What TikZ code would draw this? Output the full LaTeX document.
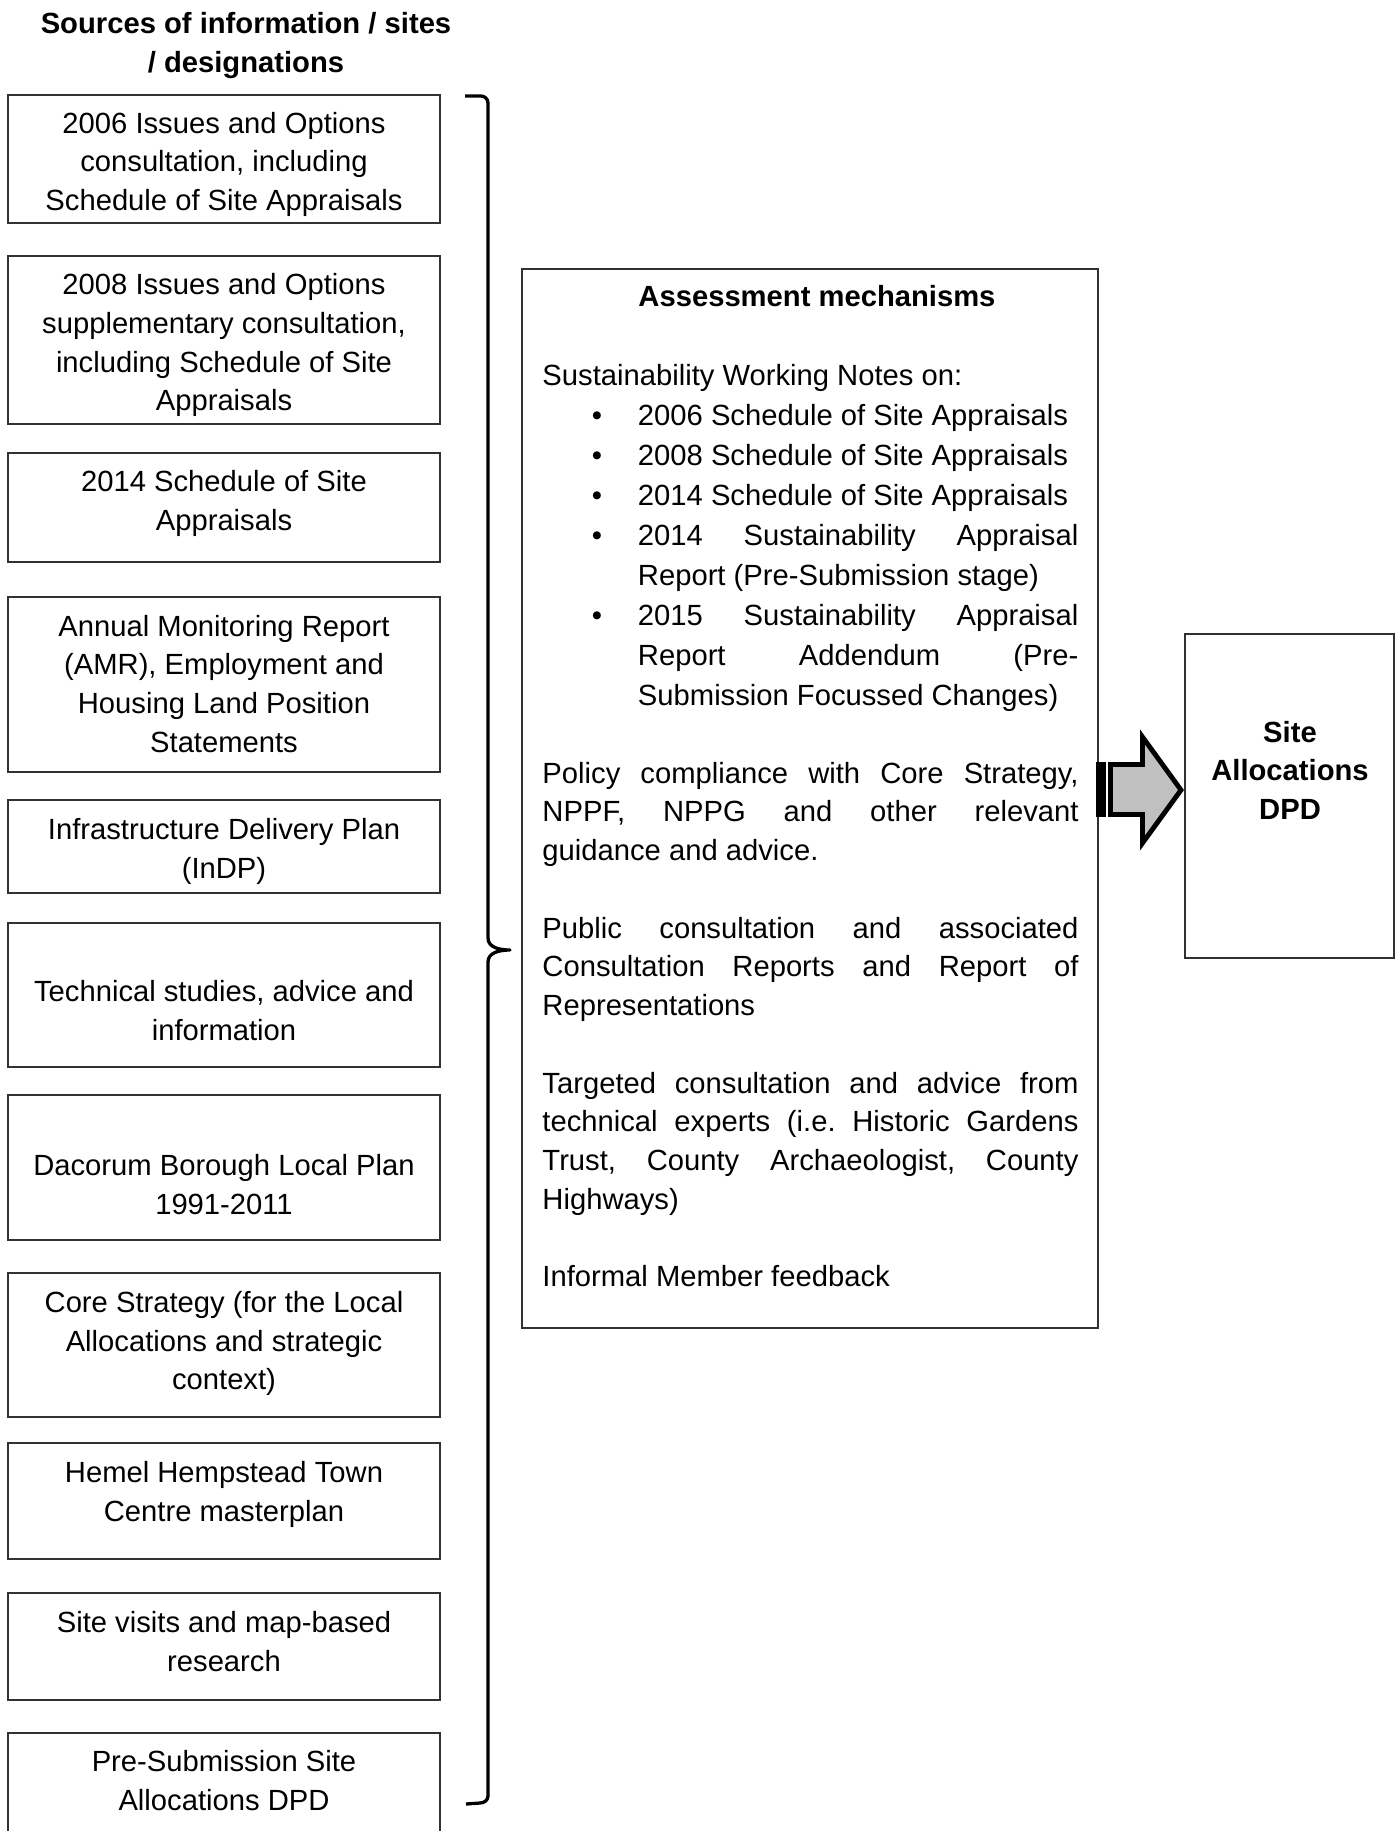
\documentclass[tikz,border=0pt]{standalone}
\usepackage{fontspec}
\setmainfont{Liberation Sans}
\usetikzlibrary{fit}
\definecolor{arrowgray}{RGB}{192,192,192}
\definecolor{boxline}{RGB}{50,50,50}
\newcommand\fixsp{\spaceskip=0pt\xspaceskip=0pt\frenchspacing}
\newcommand\lst{\rule[-3pt]{0pt}{12pt}}
\newcommand\itemline[1]{\hspace*{20.3pt}\makebox[18.95pt][l]{\textbullet}#1}
\newcommand\itemjust[1]{\hspace*{20.3pt}\makebox[18.95pt][l]{\textbullet}\makebox[181pt][s]{\fixsp #1}}
\newcommand\contline[1]{\hspace*{39.25pt}#1}
\newcommand\contjust[1]{\hspace*{39.25pt}\makebox[181pt][s]{\fixsp #1}}
\newcommand\fulljust[1]{\makebox[220.3pt][s]{\fixsp #1}}
\begin{document}
\begin{tikzpicture}[x=0.411pt,y=-0.411pt,
  srcbox/.style={draw=boxline,line width=0.5pt,inner sep=0pt},
  srctext/.style={align=center,inner sep=0pt,font=\fontsize{12pt}{15.9pt}\selectfont},
  headtext/.style={align=center,inner sep=0pt,font=\fontsize{12pt}{15.9pt}\selectfont\bfseries},
  bracestyle/.style={line width=1.35pt,line cap=butt,line join=round},
  arrowbody/.style={draw=black,line width=2pt,fill=arrowgray,line join=miter}]
\useasboundingbox (0,0) rectangle (1400,1831);
\clip (0,0) rectangle (1400,1831);
\fill[white] (0,0) rectangle (1400,1831);

% heading
\node[headtext] (head) at (246,45.9) {\fixsp\lst Sources of information / sites\\\lst/ designations};

% source boxes
\node[srcbox,fit={(8,95) (440,223)}] (s1) {};
\node[srcbox,fit={(8,256) (440,424)}] (s2) {};
\node[srcbox,fit={(8,453) (440,562)}] (s3) {};
\node[srcbox,fit={(8,597) (440,772)}] (s4) {};
\node[srcbox,fit={(8,800) (440,893)}] (s5) {};
\node[srcbox,fit={(8,923) (440,1067)}] (s6) {};
\node[srcbox,fit={(8,1095) (440,1240)}] (s7) {};
\node[srcbox,fit={(8,1273) (440,1417)}] (s8) {};
\node[srcbox,fit={(8,1443) (440,1559)}] (s9) {};
\node[srcbox,fit={(8,1593) (440,1700)}] (s10) {};
\node[srcbox,fit={(8,1733) (440,1850)}] (s11) {};

\node[srctext] (t1) at (224,164.4) {\fixsp\lst 2006 Issues and Options\\consultation, including\\\lst Schedule of Site Appraisals};
\node[srctext] (t2) at (224,345.4) {\fixsp\lst 2008 Issues and Options\\supplementary consultation,\\including Schedule of Site\\\lst Appraisals};
\node[srctext] (t3) at (224,503.4) {\fixsp\lst 2014 Schedule of Site\\\lst Appraisals};
\node[srctext] (t4) at (224,687) {\fixsp\lst Annual Monitoring Report\\(AMR), Employment and\\Housing Land Position\\\lst Statements};
\node[srctext] (t5) at (224,851.4) {\fixsp\lst Infrastructure Delivery Plan\\\lst (InDP)};
\node[srctext] (t6) at (224,1014) {\fixsp\lst Technical studies, advice and\\\lst information};
\node[srctext] (t7) at (224,1187.9) {\fixsp\lst Dacorum Borough Local Plan\\\lst 1991-2011};
\node[srctext] (t8) at (224,1343.8) {\fixsp\lst Core Strategy (for the Local\\Allocations and strategic\\\lst context)};
\node[srctext] (t9) at (224,1495) {\fixsp\lst Hemel Hempstead Town\\\lst Centre masterplan};
\node[srctext] (t10) at (224,1644.4) {\fixsp\lst Site visits and map-based\\\lst research};
\node[srctext] (t11) at (224,1783.4) {\fixsp\lst Pre-Submission Site\\\lst Allocations DPD};

% brace
\coordinate (btop) at (465,96);
\coordinate (btip) at (510,950);
\coordinate (bbot) at (466,1804);
\draw[bracestyle] (btop) -- (481,96) to[out=0,in=90] (488,103) -- (488,938)
  to[out=-90,in=180] (btip) to[out=180,in=90] (488,962) -- (488,1796)
  to[out=-90,in=0] (480,1803) -- (bbot);

% assessment box
\node[srcbox,fit={(522,269) (1098,1328)}] (assess) {};
\node[headtext] (assesshead) at (817,299) {\fixsp\lst Assessment mechanisms};
\node[anchor=north west,inner sep=0pt,text width=220.3pt,align=left,
  font=\fontsize{12pt}{15.93pt}\selectfont] (assesstext) at (542,363.4) {\fixsp
\lst Sustainability Working Notes on:\\[0.5pt]
\itemline{2006 Schedule of Site Appraisals}\\[0.5pt]
\itemline{2008 Schedule of Site Appraisals}\\[0.5pt]
\itemline{2014 Schedule of Site Appraisals}\\[0.5pt]
\itemjust{2014 Sustainability Appraisal}\\[0.5pt]
\contline{Report (Pre-Submission stage)}\\[0.5pt]
\itemjust{2015 Sustainability Appraisal}\\[0.5pt]
\contjust{Report Addendum (Pre-}\\[0.5pt]
\contline{Submission Focussed Changes)}\\
\mbox{}\\
\fulljust{Policy compliance with Core Strategy,}\\
\fulljust{NPPF, NPPG and other relevant}\\
guidance and advice.\\
\mbox{}\\
\fulljust{Public consultation and associated}\\
\fulljust{Consultation Reports and Report of}\\
Representations\\
\mbox{}\\
\fulljust{Targeted consultation and advice from}\\
\fulljust{technical experts (i.e. Historic Gardens}\\
\fulljust{Trust, County Archaeologist, County}\\
Highways)\\
\mbox{}\\
Informal Member feedback};

% result box
\node[srcbox,fit={(1185,634) (1394,958)}] (result) {};
\node[headtext] (resulttext) at (1290,773.4) {\fixsp\lst Site\\Allocations\\\lst DPD};

% striped block arrow
\fill[black] (1096,762) rectangle (1105.5,817);
\draw[arrowbody] (1110.5,764.5) -- (1142.5,764.5) -- (1142.5,737) -- (1181,790)
  -- (1142.5,843) -- (1142.5,814.5) -- (1110.5,814.5) -- cycle;
\end{tikzpicture}
\end{document}
